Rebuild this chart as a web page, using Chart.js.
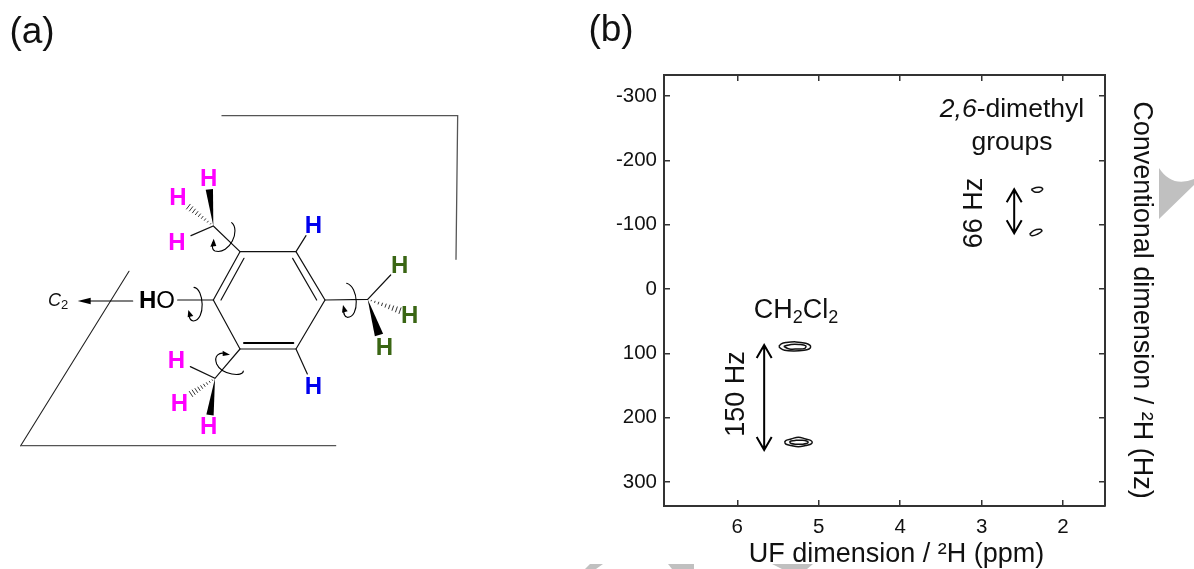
<!DOCTYPE html>
<html>
<head>
<meta charset="utf-8">
<title>UF 2H NMR</title>
<script src="https://cdn.jsdelivr.net/npm/chart.js@4/dist/chart.umd.min.js"></script>
<style>
  html, body { margin: 0; padding: 0; background: #fff; }
  canvas { display: block; }
</style>
</head>
<body>
<canvas id="nmrChart" width="1194" height="569" style="width:1194px;height:569px"></canvas>
<script>
// tick labels
const ufTicks = [6, 5, 4, 3, 2];
const convTicks = [-300, -200, -100, 0, 100, 200, 300];

// axis limits
const ufLimits = [1.485, 6.9];
const convLimits = [-332.7, 337];

// contour rings, ppm / Hz
const ch2cl2UpperOuterPpm = [5.49, 5.46, 5.40, 5.28, 5.16, 5.11, 5.10, 5.12, 5.18, 5.30, 5.42, 5.47];
const ch2cl2UpperOuterHz = [89, 85, 83, 82, 84, 87, 90, 93, 95, 96, 95, 92];
const ch2cl2UpperInnerPpm = [5.43, 5.34, 5.24, 5.16, 5.17, 5.26, 5.36];
const ch2cl2UpperInnerHz = [89, 86, 86, 88, 92, 93, 93];
const ch2cl2LowerOuterPpm = [5.42, 5.40, 5.34, 5.25, 5.16, 5.10, 5.08, 5.10, 5.16, 5.25, 5.34, 5.40];
const ch2cl2LowerOuterHz = [238, 235, 233, 230, 233, 235, 238, 241, 243, 245, 243, 241];
const ch2cl2LowerInnerPpm = [5.36, 5.34, 5.28, 5.20, 5.15, 5.13, 5.15, 5.20, 5.28, 5.34];
const ch2cl2LowerInnerHz = [238, 236, 235, 235, 236, 238, 240, 241, 241, 240];
const methylUpperPpm = [2.39, 2.33, 2.27, 2.25, 2.29, 2.35];
const methylUpperHz = [-155, -158, -158, -155, -151, -151];
const methylLowerPpm = [2.41, 2.36, 2.28, 2.26, 2.32, 2.38];
const methylLowerHz = [-85, -91, -93, -90, -85, -83];

// splitting arrows
const ch2cl2ArrowPpm = 5.67;
const ch2cl2ArrowHz = [87, 250];
const methylArrowPpm = 2.60;
const methylArrowHz = [-155, -87];

const FONT = '"Liberation Sans", Arial, sans-serif';
const INK = '#111';

function ring(ppm, hz) {
  const pts = ppm.map((p, i) => ({ x: p, y: hz[i] }));
  pts.push(pts[0]);
  return pts;
}

function contour(ppm, hz) {
  return {
    data: ring(ppm, hz),
    showLine: true,
    tension: 0.4,
    borderColor: '#111',
    borderWidth: 1.5,
    pointRadius: 0
  };
}

// text made of several font runs
function drawRuns(ctx, runs, x, y, align) {
  ctx.textBaseline = 'middle';
  ctx.textAlign = 'left';
  let total = 0;
  runs.forEach(r => {
    ctx.font = r.font;
    total += ctx.measureText(r.text).width;
  });
  let cx = align === 'center' ? x - total / 2 : x;
  runs.forEach(r => {
    ctx.font = r.font;
    ctx.fillStyle = r.color || INK;
    ctx.fillText(r.text, cx, y + (r.dy || 0));
    cx += ctx.measureText(r.text).width;
  });
}

function drawLabel(ctx, text, x, y, font, rotation) {
  ctx.save();
  ctx.translate(x, y);
  ctx.rotate(rotation || 0);
  ctx.font = font;
  ctx.fillStyle = INK;
  ctx.textAlign = 'center';
  ctx.textBaseline = 'middle';
  ctx.fillText(text, 0, 0);
  ctx.restore();
}

// gray page marks behind everything
const backdropPlugin = {
  id: 'backdrop',
  beforeDraw(chart) {
    const ctx = chart.ctx;
    ctx.save();
    ctx.fillStyle = '#fff';
    ctx.fillRect(0, 0, chart.width, chart.height);
    ctx.fillStyle = '#c0c0c0';
    ctx.beginPath();
    ctx.moveTo(1159, 168);
    ctx.quadraticCurveTo(1172, 188, 1194, 179);
    ctx.lineTo(1194, 185);
    ctx.lineTo(1159, 219);
    ctx.closePath();
    ctx.fill();
    [
      [[585, 569], [590, 564], [603, 564], [596, 569]],
      [[668, 564], [694, 564], [694, 569], [672, 569]],
      [[772, 564], [813, 564], [807, 569], [782, 569]]
    ].forEach(poly => {
      ctx.beginPath();
      poly.forEach((p, i) => (i ? ctx.lineTo(p[0], p[1]) : ctx.moveTo(p[0], p[1])));
      ctx.closePath();
      ctx.fill();
    });
    ctx.restore();
  }
};

// annotations for panel (b)
const annotationsPlugin = {
  id: 'annotations',
  afterDraw(chart) {
    const ctx = chart.ctx;
    const xs = chart.scales.x;
    const ys = chart.scales.y;

    function doubleArrow(ppm, hz) {
      const x = xs.getPixelForValue(ppm);
      const y1 = ys.getPixelForValue(hz[0]);
      const y2 = ys.getPixelForValue(hz[1]);
      ctx.strokeStyle = '#000';
      ctx.lineWidth = 2;
      ctx.beginPath();
      ctx.moveTo(x, y1);
      ctx.lineTo(x, y2);
      ctx.moveTo(x - 7.5, y1 + 13);
      ctx.lineTo(x, y1);
      ctx.lineTo(x + 7.5, y1 + 13);
      ctx.moveTo(x - 7.5, y2 - 13);
      ctx.lineTo(x, y2);
      ctx.lineTo(x + 7.5, y2 - 13);
      ctx.stroke();
    }

    ctx.save();
    doubleArrow(ch2cl2ArrowPpm, ch2cl2ArrowHz);
    doubleArrow(methylArrowPpm, methylArrowHz);

    const big = '27px ' + FONT;
    const small = '18px ' + FONT;
    drawRuns(ctx, [
      { text: 'CH', font: big },
      { text: '2', font: small, dy: 7 },
      { text: 'Cl', font: big },
      { text: '2', font: small, dy: 7 }
    ], 796, 311, 'center');
    drawRuns(ctx, [
      { text: '2,6', font: 'italic 26.5px ' + FONT },
      { text: '-dimethyl', font: '26.5px ' + FONT }
    ], 1012, 110, 'center');
    drawLabel(ctx, 'groups', 1012, 143, '26.5px ' + FONT);
    drawLabel(ctx, '150 Hz', 737, 394, big, -Math.PI / 2);
    drawLabel(ctx, '66 Hz', 975, 213, big, -Math.PI / 2);

    // axis titles sit off-centre from the frame in the original
    drawLabel(ctx, 'UF dimension / ²H (ppm)', 896.5, 555, big);
    drawLabel(ctx, 'Conventional dimension / ²H (Hz)', 1141, 300, big, Math.PI / 2);

    drawLabel(ctx, '(a)', 32, 33, '37px ' + FONT);
    drawLabel(ctx, '(b)', 611, 31, '37px ' + FONT);
    ctx.restore();
  }
};

// panel (a), coordinates taken from a 3x crop starting at y=90
const moleculePlugin = {
  id: 'molecule',
  afterDraw(chart) {
    const ctx = chart.ctx;
    const X = v => v / 3;
    const Y = v => v / 3 + 90;

    function path(points, color, width) {
      ctx.strokeStyle = color;
      ctx.lineWidth = width;
      ctx.beginPath();
      points.forEach((p, i) => (i ? ctx.lineTo(X(p[0]), Y(p[1])) : ctx.moveTo(X(p[0]), Y(p[1]))));
      ctx.stroke();
    }

    function wedge(from, to, half) {
      const dx = to[0] - from[0];
      const dy = to[1] - from[1];
      const len = Math.hypot(dx, dy);
      const nx = -dy / len * half;
      const ny = dx / len * half;
      ctx.fillStyle = '#000';
      ctx.beginPath();
      ctx.moveTo(X(from[0]), Y(from[1]));
      ctx.lineTo(X(to[0] + nx), Y(to[1] + ny));
      ctx.lineTo(X(to[0] - nx), Y(to[1] - ny));
      ctx.closePath();
      ctx.fill();
    }

    function hash(from, to, half) {
      const dx = to[0] - from[0];
      const dy = to[1] - from[1];
      const len = Math.hypot(dx, dy);
      const nx = -dy / len;
      const ny = dx / len;
      ctx.strokeStyle = '#000';
      ctx.lineWidth = 0.8;
      ctx.beginPath();
      for (let i = 1; i <= 9; i++) {
        const t = i / 9;
        const w = half * t;
        const px = from[0] + dx * t;
        const py = from[1] + dy * t;
        ctx.moveTo(X(px + nx * w), Y(py + ny * w));
        ctx.lineTo(X(px - nx * w), Y(py - ny * w));
      }
      ctx.stroke();
    }

    function curl(c, tip, base1, base2) {
      ctx.strokeStyle = '#000';
      ctx.lineWidth = 1.1;
      ctx.beginPath();
      ctx.moveTo(X(c[0][0]), Y(c[0][1]));
      for (let i = 1; i < c.length; i += 3) {
        ctx.bezierCurveTo(X(c[i][0]), Y(c[i][1]), X(c[i + 1][0]), Y(c[i + 1][1]), X(c[i + 2][0]), Y(c[i + 2][1]));
      }
      ctx.stroke();
      ctx.fillStyle = '#000';
      ctx.beginPath();
      ctx.moveTo(X(tip[0]), Y(tip[1]));
      ctx.lineTo(X(base1[0]), Y(base1[1]));
      ctx.lineTo(X(base2[0]), Y(base2[1]));
      ctx.closePath();
      ctx.fill();
    }

    ctx.save();
    ctx.lineCap = 'round';

    // plane behind the molecule
    path([[666, 77], [1373, 77], [1368, 508]], '#555', 1.3);
    path([[387, 544], [62, 1067]], '#222', 1.1);
    path([[62, 1067], [1007, 1067]], '#555', 1.3);

    // ring
    path([[720, 485], [888, 485], [975, 630], [888, 777], [720, 777], [640, 630], [720, 485]], '#111', 1.2);
    path([[732, 505], [663, 630]], '#111', 1.2);
    path([[878, 505], [950, 630]], '#111', 1.2);
    path([[732, 759], [880, 759]], '#000', 2);

    // substituents
    path([[720, 485], [640, 408], [573, 437]], '#111', 1.2);
    path([[888, 485], [918, 437]], '#111', 1.2);
    path([[888, 777], [922, 852]], '#111', 1.2);
    path([[975, 630], [1103, 628], [1172, 555]], '#111', 1.2);
    path([[720, 777], [645, 865], [571, 830]], '#111', 1.2);
    path([[533, 630], [640, 630]], '#111', 1.2);
    wedge([640, 408], [628, 298], 11);
    hash([640, 408], [565, 350], 9);
    wedge([1103, 628], [1137, 735], 13);
    hash([1103, 628], [1200, 662], 9);
    wedge([645, 865], [630, 975], 11);
    hash([645, 865], [573, 912], 9);

    // C2 axis
    path([[398, 633], [262, 633]], '#000', 1.2);
    curl([[262, 633], [262, 633], [262, 633], [262, 633]], [233, 633], [272, 623], [272, 643]);

    // rotation arrows
    curl([[695, 398], [722, 420], [690, 495], [645, 483], [636, 480], [636, 470], [638, 458]],
      [641, 446], [631, 470], [649, 468]);
    curl([[582, 592], [612, 596], [618, 690], [580, 693], [570, 692], [568, 685], [567, 674]],
      [565, 660], [563, 682], [580, 678]);
    curl([[1040, 580], [1076, 590], [1080, 682], [1042, 682], [1032, 680], [1031, 670], [1030, 658]],
      [1029, 645], [1026, 668], [1043, 664]);
    curl([[730, 843], [730, 862], [665, 855], [650, 822], [640, 795], [660, 786], [676, 791]],
      [690, 794], [668, 782], [668, 798]);

    // atoms
    const atomFont = 'bold 24px ' + FONT;
    [[626, 269], [534, 326], [531, 459], [529, 813], [538, 944], [626, 1011]].forEach(p => {
      drawAtom(p, '#ff00ff');
    });
    [[940, 410], [940, 893]].forEach(p => drawAtom(p, '#0000ee'));
    [[1199, 530], [1229, 678], [1153, 776]].forEach(p => drawAtom(p, '#3a6614'));

    function drawAtom(p, color) {
      ctx.font = atomFont;
      ctx.fillStyle = color;
      ctx.textAlign = 'center';
      ctx.textBaseline = 'middle';
      ctx.fillText('H', X(p[0]), Y(p[1]));
    }

    drawRuns(ctx, [
      { text: 'H', font: 'bold 24px ' + FONT, color: '#000' },
      { text: 'O', font: '24px ' + FONT, color: '#000' }
    ], 139, 301, 'left');
    drawRuns(ctx, [
      { text: 'C', font: 'italic 18px ' + FONT },
      { text: '2', font: '13px ' + FONT, dy: 4 }
    ], 48, 301, 'left');
    ctx.restore();
  }
};

const axisStyle = {
  border: { color: '#333', width: 2 },
  grid: {
    drawOnChartArea: false,
    drawTicks: true,
    tickLength: -6,
    tickColor: '#333',
    tickWidth: 1.5,
    lineWidth: 1.5
  }
};

const tickFont = { family: FONT, size: 20.5 };

new Chart(document.getElementById('nmrChart'), {
  type: 'scatter',
  data: {
    datasets: [
      contour(ch2cl2UpperOuterPpm, ch2cl2UpperOuterHz),
      contour(ch2cl2UpperInnerPpm, ch2cl2UpperInnerHz),
      contour(ch2cl2LowerOuterPpm, ch2cl2LowerOuterHz),
      contour(ch2cl2LowerInnerPpm, ch2cl2LowerInnerHz),
      contour(methylUpperPpm, methylUpperHz),
      contour(methylLowerPpm, methylLowerHz)
    ]
  },
  plugins: [backdropPlugin, annotationsPlugin, moleculePlugin],
  options: {
    responsive: false,
    animation: false,
    layout: { padding: { top: 75, right: 89 } },
    plugins: { legend: { display: false }, tooltip: { enabled: false } },
    scales: {
      x: {
        ...axisStyle,
        position: 'bottom',
        reverse: true,
        min: ufLimits[0],
        max: ufLimits[1],
        ticks: { color: INK, font: tickFont, padding: 15, maxRotation: 0 },
        afterBuildTicks: s => { s.ticks = ufTicks.map(v => ({ value: v })); },
        afterFit: s => { s.height = 63; }
      },
      x2: {
        ...axisStyle,
        position: 'top',
        reverse: true,
        min: ufLimits[0],
        max: ufLimits[1],
        ticks: { display: false },
        afterBuildTicks: s => { s.ticks = ufTicks.map(v => ({ value: v })); },
        afterFit: s => { s.height = 0; }
      },
      y: {
        ...axisStyle,
        position: 'left',
        min: convLimits[0],
        max: convLimits[1],
        reverse: true,
        ticks: { color: INK, font: tickFont, padding: 13 },
        afterBuildTicks: s => { s.ticks = convTicks.map(v => ({ value: v })); },
        afterFit: s => { s.width = 664; }
      },
      y2: {
        ...axisStyle,
        position: 'right',
        min: convLimits[0],
        max: convLimits[1],
        reverse: true,
        ticks: { display: false },
        afterBuildTicks: s => { s.ticks = convTicks.map(v => ({ value: v })); },
        afterFit: s => { s.width = 0; }
      }
    }
  }
});
</script>
</body>
</html>
